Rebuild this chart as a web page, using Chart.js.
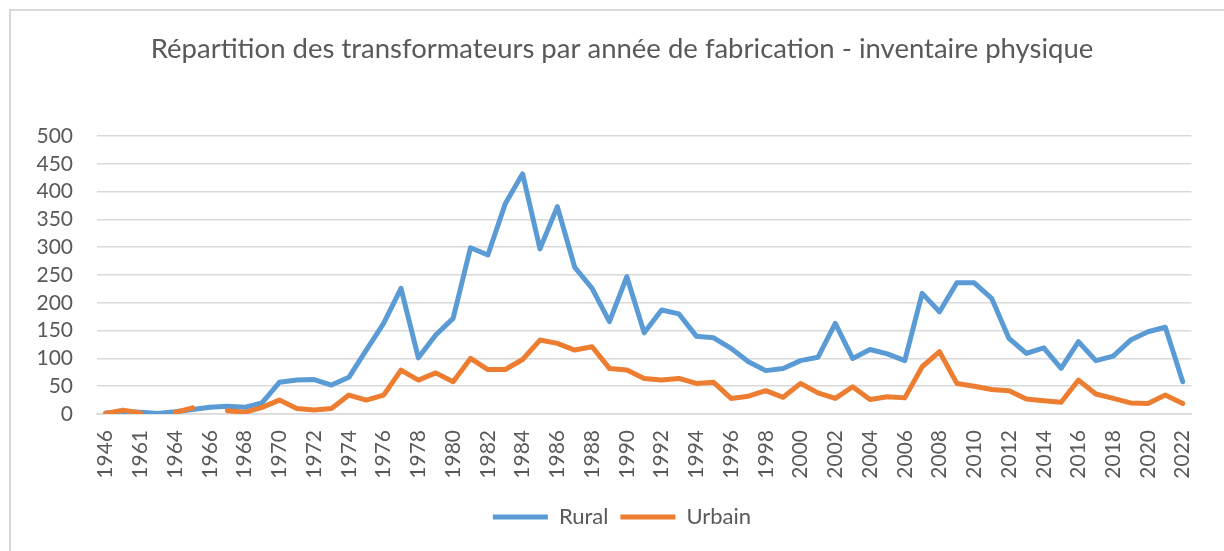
<!DOCTYPE html>
<html>
<head>
<meta charset="utf-8">
<script src="https://cdn.jsdelivr.net/npm/chart.js@4/dist/chart.umd.min.js"></script>
<style>
  html, body { margin: 0; padding: 0; background: #ffffff; overflow: hidden; }
  #frame { position: absolute; left: 9px; top: 9px; width: 1400px; height: 700px;
           border-left: 2px solid #d9d9d9; border-top: 2px solid #d9d9d9; }
  #c { position: absolute; left: 0; top: 0; }
</style>
</head>
<body>
<div id="frame"></div>
<canvas id="c" width="1224" height="551"></canvas>
<script>
// Categories (years of manufacture)
const years = ['1946','1960','1961','1963','1964','1965','1966','1967','1968','1969',
  '1970','1971','1972','1973','1974','1975','1976','1977','1978','1979',
  '1980','1981','1982','1983','1984','1985','1986','1987','1988','1989',
  '1990','1991','1992','1993','1994','1995','1996','1997','1998','1999',
  '2000','2001','2002','2003','2004','2005','2006','2007','2008','2009',
  '2010','2011','2012','2013','2014','2015','2016','2017','2018','2019',
  '2020','2021','2022'];

// Series values
const rural = [2, 4, 3, 1, 4, 8, 12, 14, 12, 20,
  57, 61, 62, 52, 66, 115, 163, 226, 101, 142,
  172, 299, 286, 378, 432, 297, 373, 264, 226, 166,
  247, 146, 187, 180, 140, 137, 118, 94, 78, 82,
  96, 102, 163, 100, 116, 108, 96, 217, 184, 236,
  236, 208, 136, 109, 119, 82, 130, 96, 104, 133,
  148, 156, 58];

const urbain = [1, 7, 2, null, 3, 11, null, 6, 3, 12,
  25, 10, 7, 10, 34, 25, 34, 79, 61, 74,
  58, 100, 80, 80, 98, 133, 127, 115, 121, 82,
  79, 64, 61, 64, 55, 57, 28, 32, 42, 30,
  55, 38, 28, 49, 26, 31, 29, 85, 112, 55,
  50, 44, 42, 27, 24, 21, 61, 36, 28, 20,
  19, 34, 19];

// Axis ticks
const yTicks = [0, 50, 100, 150, 200, 250, 300, 350, 400, 450, 500];

const titleText = 'Répartition des transformateurs par année de fabrication - inventaire physique';
const seriesNames = ['Rural', 'Urbain'];
const colors = ['#5B9BD5', '#ED7D31'];
const textColor = '#595959';
const gridColor = '#d9d9d9';

new Chart(document.getElementById('c'), {
  type: 'line',
  data: {
    labels: years,
    datasets: [
      { label: seriesNames[0], data: rural, borderColor: colors[0], backgroundColor: colors[0], order: 1,
        borderWidth: 5, pointRadius: 0, tension: 0, borderCapStyle: 'round', borderJoinStyle: 'round', spanGaps: false },
      { label: seriesNames[1], data: urbain, borderColor: colors[1], backgroundColor: colors[1], order: 0,
        borderWidth: 5, pointRadius: 0, tension: 0, borderCapStyle: 'round', borderJoinStyle: 'round', spanGaps: false }
    ]
  },
  options: {
    responsive: false,
    devicePixelRatio: 1,
    animation: false,
    layout: { padding: { left: 31, right: 11, top: 0, bottom: 13 } },
    plugins: {
      title: {
        display: true, text: titleText, color: textColor,
        font: { family: 'Lato', size: 27.5, weight: 'normal' },
        padding: { top: 33, bottom: 70 }
      },
      legend: {
        display: true, position: 'bottom',
        labels: {
          usePointStyle: true, pointStyle: 'line', pointStyleWidth: 55,
          color: textColor, font: { family: 'Lato', size: 22 }, padding: 12,
          sort: function(a, b) { return a.datasetIndex - b.datasetIndex; }
        }
      },
      tooltip: { enabled: false }
    },
    scales: {
      x: {
        offset: true,
        grid: { display: false, drawTicks: false },
        border: { display: true, color: gridColor, width: 1.5 },
        ticks: {
          autoSkip: false, minRotation: 90, maxRotation: 90, padding: 16,
          color: textColor, font: { family: 'Lato', size: 21 },
          callback: function(v, i) { return i % 2 === 0 ? years[i] : ''; }
        },
        afterFit: function(s) { s.height = 80; }
      },
      y: {
        min: 0, max: 500,
        grid: { color: gridColor, lineWidth: 1.5, drawTicks: false },
        border: { display: false },
        afterBuildTicks: function(s) { s.ticks = yTicks.map(v => ({ value: v })); },
        ticks: { autoSkip: false, padding: 24, color: textColor, font: { family: 'Lato', size: 21 } },
        afterFit: function(s) { s.width = 66; }
      }
    }
  }
});
</script>
</body>
</html>
